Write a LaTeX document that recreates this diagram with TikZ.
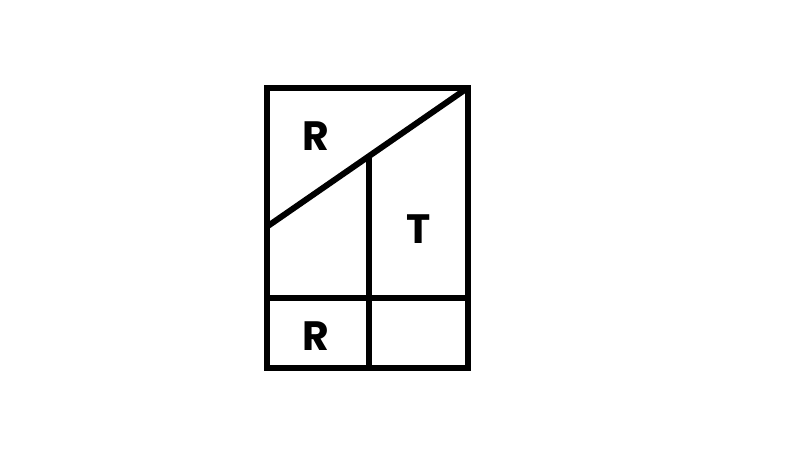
\documentclass[tikz,border=0pt]{standalone}
\usepackage{fontspec}
\setmainfont{Poppins}
\begin{document}
\begin{tikzpicture}[x=1pt,y=-1pt,
  frame/.style={line width=6pt,line join=miter},
  divider/.style={line width=6pt},
  lbl/.style={font=\fontsize{41}{43}\selectfont\bfseries,inner sep=0pt,anchor=center}]
\useasboundingbox[fill=white] (0,0) rectangle (801,457);
\coordinate (tl) at (266.5,88);
\coordinate (br) at (467.5,367.5);
\coordinate (dl) at (266.5,227);
\coordinate (dr) at (467.5,88);
\coordinate (vt) at (368.5,157);
\coordinate (vb) at (368.5,367.5);
\coordinate (hl) at (266.5,298.5);
\coordinate (hr) at (467.5,298.5);
\draw[frame] (tl) rectangle (br);
\draw[divider] (dl) -- (dr);
\draw[divider] (vt) -- (vb);
\draw[divider] (hl) -- (hr);
\node[lbl] (r1) at (316,136) {R};
\node[lbl] (t1) at (419,229) {T};
\node[lbl] (r2) at (316,336) {R};
\end{tikzpicture}
\end{document}
